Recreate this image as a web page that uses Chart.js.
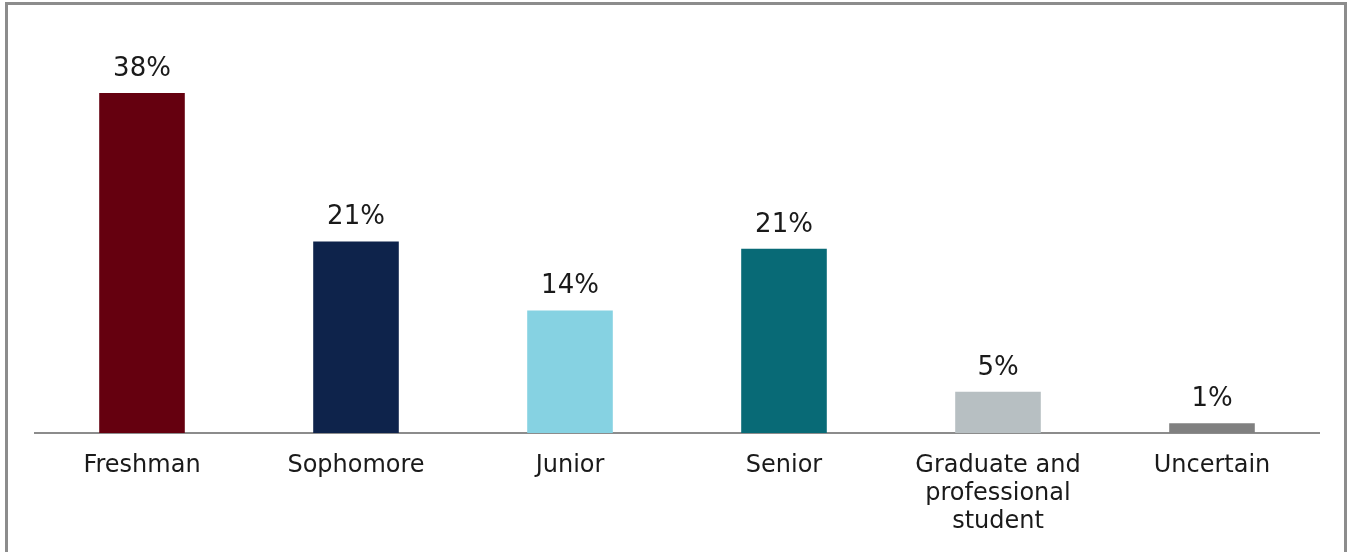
<!DOCTYPE html>
<html>
<head>
<meta charset="utf-8">
<script src="https://cdn.jsdelivr.net/npm/chart.js@4"></script>
<style>
  html, body { margin: 0; padding: 0; background: #fff; overflow: hidden; }
  #frame {
    position: absolute; left: 5px; top: 2px; width: 1336px; height: 600px;
    border: 3px solid #8c8c8c; box-sizing: content-box;
  }
  #wrap { position: absolute; left: 0; top: 0; width: 1349px; height: 552px; }
</style>
</head>
<body>
<div id="frame"></div>
<div id="wrap"><canvas id="chart"></canvas></div>
<script>
// Class standing of respondents
const categories = ['Freshman', 'Sophomore', 'Junior', 'Senior', ['Graduate and', 'professional', 'student'], 'Uncertain'];
const shares = [38.0, 21.4, 13.7, 20.6, 4.6, 1.1];
const barColors = ['#65000f', '#0e234b', '#86d2e2', '#086a76', '#b7bfc2', '#808080'];

const FONT = '"DejaVu Sans", Verdana, sans-serif';

// Percent labels above each bar
const valueLabels = {
  id: 'valueLabels',
  afterDatasetsDraw(chart) {
    const ctx = chart.ctx;
    const meta = chart.getDatasetMeta(0);
    ctx.save();
    ctx.font = '26px ' + FONT;
    ctx.fillStyle = '#1a1a1a';
    ctx.textAlign = 'center';
    ctx.textBaseline = 'alphabetic';
    meta.data.forEach((bar, i) => {
      ctx.fillText(Math.round(shares[i]) + '%', bar.x, bar.y - 17);
    });
    ctx.restore();
  }
};

new Chart(document.getElementById('chart'), {
  type: 'bar',
  data: {
    labels: categories,
    datasets: [{
      data: shares,
      backgroundColor: barColors,
      borderWidth: 0,
      categoryPercentage: 1,
      barPercentage: 0.4
    }]
  },
  plugins: [valueLabels],
  options: {
    responsive: true,
    maintainAspectRatio: false,
    animation: false,
    layout: { padding: { left: 35, right: 30, top: 75, bottom: 0 } },
    plugins: { legend: { display: false }, tooltip: { enabled: false } },
    scales: {
      x: {
        grid: { display: false, drawTicks: false },
        border: { display: true, color: '#8c8c8c', width: 2 },
        ticks: {
          color: '#1a1a1a',
          padding: 19,
          maxRotation: 0,
          autoSkip: false,
          font: { family: FONT, size: 24, lineHeight: '28px' }
        },
        afterFit(scale) { scale.height = 552 - 433; }
      },
      y: {
        display: false,
        min: 0,
        max: 40
      }
    }
  }
});
</script>
</body>
</html>
